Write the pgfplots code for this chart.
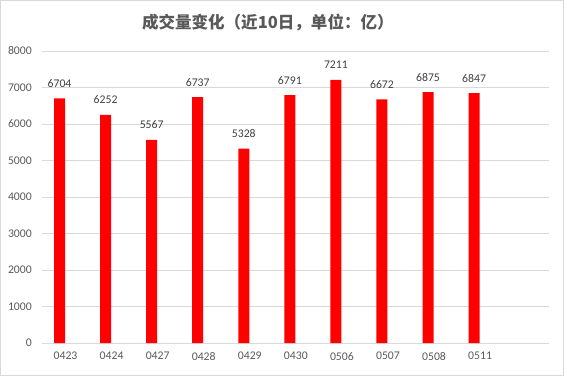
\documentclass[border=0pt]{standalone}
\usepackage{pgfplots}
\pgfplotsset{compat=1.18}
\usepackage{fontspec}
\setmainfont{Carlito}
\newfontfamily\cjk{Noto Sans CJK SC}
\definecolor{gridgray}{HTML}{D9D9D9}
\definecolor{ticktext}{HTML}{595959}
\definecolor{labeltext}{HTML}{404040}
\definecolor{barred}{HTML}{FF0000}
\begin{document}
\begin{tikzpicture}
\useasboundingbox (-31.875pt,-24.75pt) rectangle (391.125pt,257.25pt);
\draw[gridgray, line width=0.75pt] (-31.5pt,-24.375pt) rectangle (390.75pt,256.875pt);
\begin{axis}[
  at={(0pt,0pt)}, anchor=south west,
  scale only axis,
  width=380pt, height=219pt,
  xmin=-0.5, xmax=10.5,
  ymin=0, ymax=8000,
  ytick={0,1000,...,8000},
  xtick={0,...,9},
  xticklabels={0423,0424,0427,0428,0429,0430,0506,0507,0508,0511},
  major tick length=0pt,
  axis x line*=bottom,
  axis y line*=left,
  x axis line style={gridgray, line width=0.75pt},
  y axis line style={draw=none},
  ymajorgrids,
  grid style={gridgray, line width=0.75pt},
  tick label style={font=\fontsize{8.8pt}{10pt}\selectfont, text=ticktext},
  yticklabel style={xshift=-4.5pt},
  xticklabel style={yshift=-3.5pt},
  /pgf/number format/assume math mode=true,
  /pgf/number format/set thousands separator={},
  ybar,
  bar width=8.25pt,
  bar shift=-4.5pt,
  nodes near coords,
  every node near coord/.append style={font=\fontsize{8.8pt}{10pt}\selectfont, text=labeltext, inner sep=0pt, anchor=south, yshift=8pt},
  clip=false,
]
\addplot[fill=barred, draw=none] coordinates {
(0,6704) (1,6252) (2,5567) (3,6737) (4,5328) (5,6791) (6,7211) (7,6672) (8,6875) (9,6847)
};
\end{axis}
\node[font=\cjk\bfseries\fontsize{12.4pt}{15pt}\selectfont, text=ticktext] at (169pt,240.4pt) {成交量变化（近10日，单位：亿）};
\end{tikzpicture}
\end{document}
